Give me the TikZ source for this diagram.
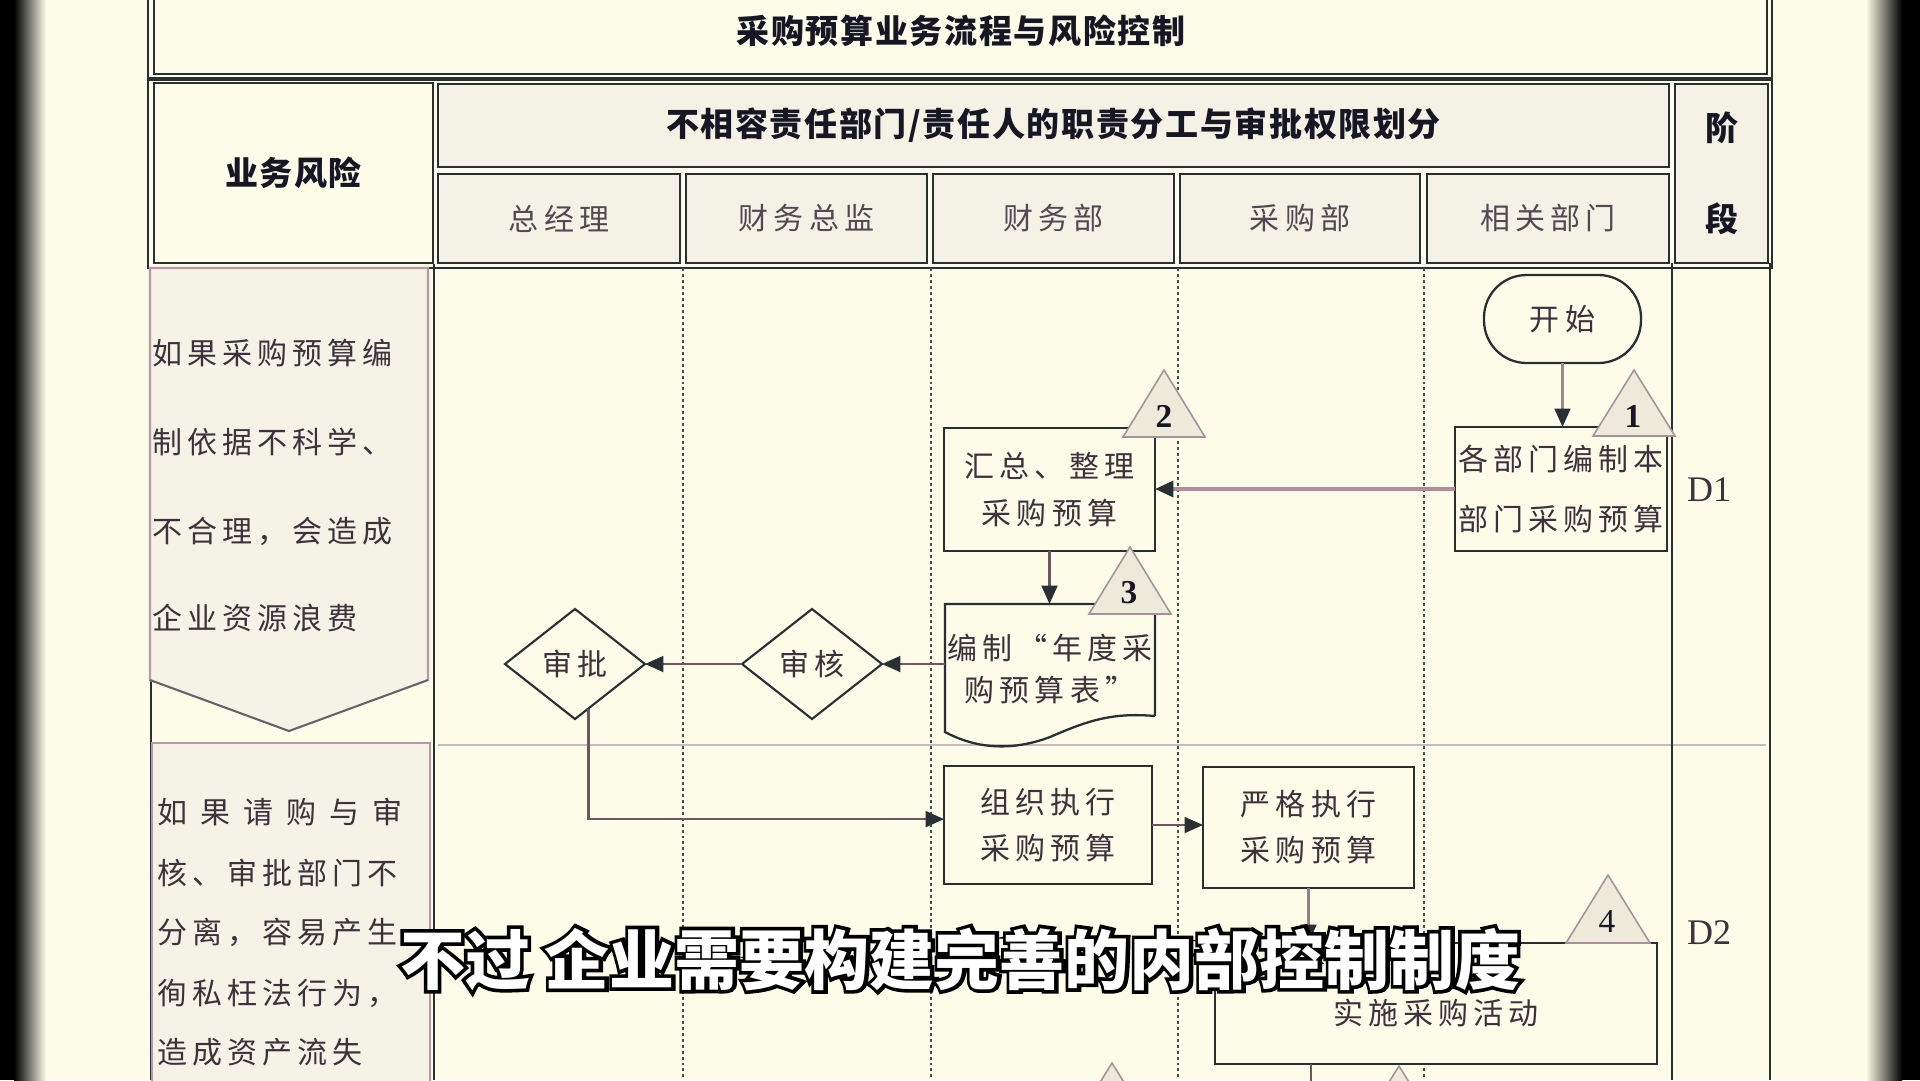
\documentclass[tikz,border=0pt]{standalone}
\usepackage{fontspec}
\setmainfont{Liberation Serif}
\newfontfamily\cjk[LetterSpace=17]{Noto Sans CJK SC}
\newfontfamily\cjkb[LetterSpace=5]{Noto Sans CJK SC}
\newfontfamily\cjksub{Noto Sans CJK SC}
\newfontfamily\cjksubol[FakeBold=11]{Noto Sans CJK SC}
\usetikzlibrary{shapes.geometric,arrows.meta,calc}
\definecolor{bg}{RGB}{252,252,232}
\definecolor{hdr}{RGB}{243,242,228}
\definecolor{riskfill}{RGB}{244,243,230}
\definecolor{trifill}{RGB}{238,234,218}
\definecolor{frame}{RGB}{40,48,52}
\definecolor{conn}{RGB}{112,84,98}
\definecolor{pinkline}{RGB}{176,140,158}
\definecolor{sepc}{RGB}{204,184,194}
\definecolor{pinkb}{RGB}{186,150,168}
\definecolor{txt}{RGB}{58,50,60}
\definecolor{htxt}{RGB}{80,72,85}
\definecolor{btxt}{RGB}{22,22,36}
\definecolor{trib}{RGB}{168,145,155}
\newcommand\myrf[1]{\cjk\fontsize{17.07}{#1}\selectfont}
\tikzset{
  every node/.style={inner sep=0pt,outer sep=0pt},
  cell/.style={draw=frame,line width=1.2pt,fill=hdr},
  box/.style={draw=frame,line width=1.3pt,fill=bg,align=center,text=txt,font={\myrf{26.2}}},
  lbl/.style={font={\myrf{20}},text=txt},
  hlbl/.style={font={\myrf{20}},text=htxt},
  blbl/.style={font={\cjkb\bfseries\fontsize{18.78}{22}\selectfont},text=btxt},
  dia/.style={diamond,draw=frame,line width=1.2pt,fill=bg,minimum width=2.8cm,minimum height=2.2cm,font={\myrf{20}},text=txt},
  arr/.style={draw=conn,line width=1.4pt,-{Triangle[length=10.5pt,width=9pt,color=frame]}},
  lane/.style={draw=frame!85,line width=0.7pt,dash pattern=on 1.7pt off 1.7pt},
  tri/.style={draw=trib,line width=0.9pt,fill=trifill},
  trinum/.style={font={\bfseries\fontsize{19}{20}\selectfont},text=btxt},
  stagelbl/.style={font={\fontsize{20.5}{22}\selectfont},text=txt},
  subfont/.style={font={\cjksub\bfseries\fontsize{37}{40}\selectfont}},
  subol/.style={font={\cjksubol\bfseries\fontsize{37}{40}\selectfont}},
}
\begin{document}
\begin{tikzpicture}[x=0.02cm,y=-0.02cm]
\useasboundingbox (0,0) rectangle (1920,1080);
\clip (0,0) rectangle (1920,1080);
\fill[bg] (0,0) rectangle (1920,1080);

% title table
\draw[frame,line width=0.9pt] (148,-10) rectangle (1772,78);
\draw[frame,line width=0.9pt] (154,-10) rectangle (1767,74);
\node[blbl] (title) at (961,31) {采购预算业务流程与风险控制};

% header table
\draw[frame,line width=0.9pt] (148,80) rectangle (1772,268);
\node[cell,fill=bg,minimum width=5.58cm,minimum height=3.6cm,blbl] (hrisk) at (293.5,173) {业务风险};
\node[cell,minimum width=24.62cm,minimum height=1.66cm,blbl] (hduty) at (1053.5,125.5) {不相容责任部门/责任人的职责分工与审批权限划分};
\node[cell,minimum width=4.84cm,minimum height=1.78cm,hlbl] (h1) at (559,218.5) {总经理};
\node[cell,minimum width=4.82cm,minimum height=1.78cm,hlbl] (h2) at (806.5,218.5) {财务总监};
\node[cell,minimum width=4.82cm,minimum height=1.78cm,hlbl] (h3) at (1053.5,218.5) {财务部};
\node[cell,minimum width=4.80cm,minimum height=1.78cm,hlbl] (h4) at (1300,218.5) {采购部};
\node[cell,minimum width=4.84cm,minimum height=1.78cm,hlbl] (h5) at (1548,218.5) {相关部门};
\node[cell,minimum width=1.86cm,minimum height=3.58cm,blbl,align=center,font={\cjkb\bfseries\fontsize{18.78}{51.8}\selectfont}] (hstage) at (1721.5,173.5) {阶\\段};

% body lines
\draw[lane] (683,268) -- (683,1080);
\draw[lane] (931,268) -- (931,1080);
\draw[lane] (1178,268) -- (1178,1080);
\draw[lane] (1424,268) -- (1424,1080);
\draw[sepc,line width=1.1pt] (438,745) -- (1766,745);
\draw[frame,line width=1.4pt] (151,268) -- (151,1080);
\draw[frame,line width=1.4pt] (434,264) -- (434,1080);
\draw[frame,line width=1.6pt] (1672,263) -- (1672,1080);
\draw[frame,line width=1.6pt] (1770,263) -- (1770,1080);

% risk boxes
\filldraw[fill=riskfill,draw=pinkb,line width=1.2pt] (150,268) -- (428,268) -- (428,680) -- (289,731) -- (150,680) -- cycle;
\draw[draw=frame!75,line width=1pt] (428,680) -- (289,731) -- (150,680);
\node[lbl,anchor=west] (ra1) at (152,353) {如果采购预算编};
\node[lbl,anchor=west] (ra2) at (152,442) {制依据不科学、};
\node[lbl,anchor=west] (ra3) at (152,531) {不合理，会造成};
\node[lbl,anchor=west] (ra4) at (152,618) {企业资源浪费};
\filldraw[fill=riskfill,draw=pinkb,line width=1.4pt] (152,743) rectangle (430,1100);
\node[lbl,anchor=west] (rb1) at (157,812) {\makebox[140pt][s]{如\hfil 果\hfil 请\hfil 购\hfil 与\hfil 审}};
\node[lbl,anchor=west] (rb2) at (157,873) {核、审批部门不};
\node[lbl,anchor=west] (rb3) at (157,932) {分离，容易产生};
\node[lbl,anchor=west] (rb4) at (157,993) {徇私枉法行为，};
\node[lbl,anchor=west] (rb5) at (157,1052) {造成资产流失};

% flow nodes
\node[box,minimum width=3.14cm,minimum height=1.76cm,rounded corners=0.85cm] (start) at (1562.5,319) {开始};
\node[box,minimum width=4.24cm,minimum height=2.48cm,font={\myrf{34.7}}] (gb) at (1561,489) {各部门编制本\\部门采购预算};
\node[box,minimum width=4.22cm,minimum height=2.46cm,font={\myrf{26.7}}] (hz) at (1049.5,489.5) {汇总、整理\\采购预算};
\node[lbl,align=center,minimum width=4.2cm,minimum height=2.6cm,font={\myrf{23.9}}] (doc) at (1050,669) {编制“年度采\\购预算表”};
\draw[frame,line width=1.3pt] (1155,716) -- (doc.north east) -- (doc.north west) -- (945,732)
  .. controls (975,748) and (1010,752) .. (1050,737)
  .. controls (1085,722) and (1110,712) .. (1155,716);
\node[dia] (sh) at (812,664) {审核};
\node[dia] (sp) at (575,664) {审批};
\node[box,minimum width=4.16cm,minimum height=2.36cm] (zz) at (1048,825) {组织执行\\采购预算};
\node[box,minimum width=4.22cm,minimum height=2.42cm] (yg) at (1308.5,827.5) {严格执行\\采购预算};
\node[box,minimum width=8.84cm,minimum height=2.42cm] (ss) at (1436,1003.5) {};
\node[lbl] (sstext) at (1436,1013) {实施采购活动};

% connectors
\draw[arr,draw=pinkline!80!conn,line width=1.3pt] (start.south) -- (start.south |- gb.north);
\draw[arr,draw=pinkline,line width=2.2pt] (gb.west) -- (gb.west -| hz.east);
\draw[arr] (hz.south) -- (hz.south |- doc.north);
\draw[arr] (doc.west |- sh.east) -- (sh.east);
\draw[arr] (sh.west) -- (sp.east);
\draw[arr] ($(sp.south)!0.19!(sp.east)$) |- ($(zz.north west)!0.45!(zz.south west)$);
\draw[arr] (zz.east) -- (zz.east -| yg.west);
\draw[arr,draw=pinkline!70!conn] (yg.south) -- (yg.south |- ss.north);
\coordinate (ssout) at (1311,1090);
\draw[draw=conn,line width=1.4pt] (ss.south -| ssout) -- (ssout);

% risk-point triangles
\draw[tri] (1634,370) -- (1675,436) -- (1593,436) -- cycle;
\node[trinum] (n1) at (1633,416) {1};
\draw[tri] (1164,370) -- (1205,437) -- (1123,437) -- cycle;
\node[trinum] (n2) at (1164,416) {2};
\draw[tri] (1130,547) -- (1171,614) -- (1089,614) -- cycle;
\node[trinum] (n3) at (1129,593) {3};
\draw[tri] (1608,875) -- (1650,943) -- (1566,943) -- cycle;
\node[trinum,font={\fontsize{19}{20}\selectfont}] (n4) at (1607,921) {4};
\draw[tri] (1112,1063) -- (1153,1129) -- (1071,1129) -- cycle;
\draw[tri] (1399,1066) -- (1440,1132) -- (1358,1132) -- cycle;

% stages
\node[stagelbl] (d1) at (1709,490) {D1};
\node[stagelbl] (d2) at (1709,933) {D2};

% subtitle (outlined)
\node[subol,text=black] (subo) at (960,959) {不过 企业需要构建完善的内部控制制度};
\node[subfont,text=white] (sub) at (960,959) {不过 企业需要构建完善的内部控制制度};

% vignette
\fill[black] (0,0) rectangle (14,1080);
\shade[left color=black,right color=bg] (14,0) rectangle (46,1080);
\shade[left color=bg,right color=black] (1866,0) rectangle (1902,1080);
\fill[black] (1902,0) rectangle (1920,1080);
\end{tikzpicture}
\end{document}
